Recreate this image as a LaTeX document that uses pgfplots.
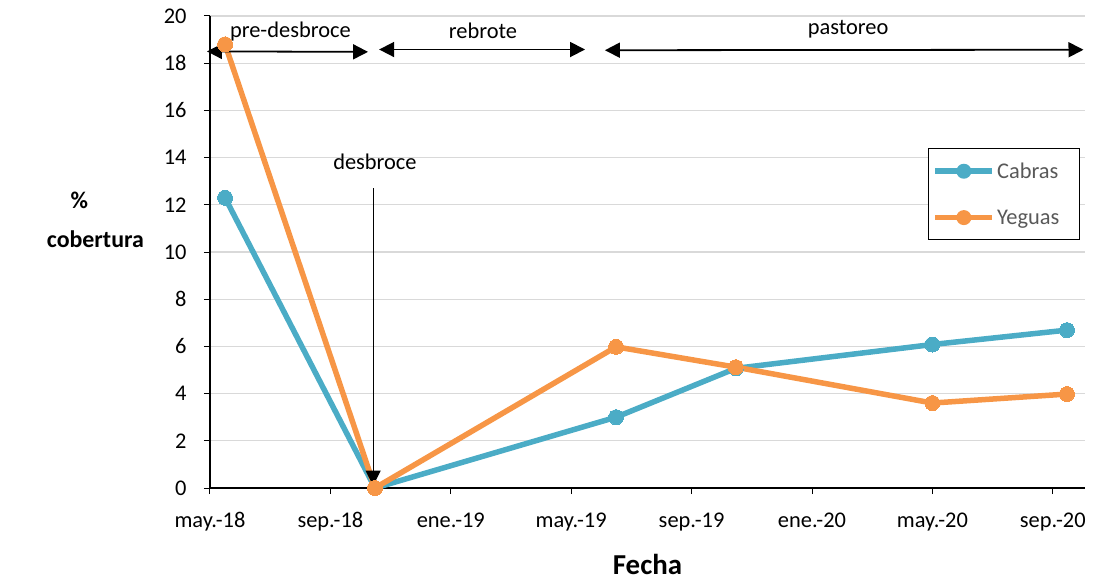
\documentclass[border=0pt]{standalone}
\usepackage{pgfplots}
\pgfplotsset{compat=1.18}
\usepackage{fontspec}
\setmainfont{Carlito}
\usetikzlibrary{arrows.meta}
\definecolor{cabras}{HTML}{4BACC6}
\definecolor{yeguas}{HTML}{F79646}
\definecolor{gridgray}{HTML}{D9D9D9}
\definecolor{leggray}{HTML}{595959}
\begin{document}
\begin{tikzpicture}
\begin{axis}[
  scale only axis,
  width=875bp, height=472bp,
  xmin=0, xmax=29.07, ymin=0, ymax=20,
  axis x line*=bottom, axis y line*=left,
  axis line style={black, line width=1.3pt, -},
  xtick={0,4,8,12,16,20,24,28},
  xticklabels={may.-18,sep.-18,ene.-19,may.-19,sep.-19,ene.-20,may.-20,sep.-20},
  ytick={0,2,...,20},
  tick align=outside,
  major tick length=6bp,
  tick style={black, line width=1pt},
  ymajorgrids, grid style={gridgray, line width=1.2pt},
  /pgf/number format/assume math mode=true,
  tick label style={font=\fontsize{22.5}{26}\selectfont},
  xticklabel shift=15bp,
  yticklabel shift=14bp,
  xlabel={\textbf{Fecha}},
  xlabel style={font=\fontsize{29}{34}\selectfont, at={(axis description cs:0.5,-0.163)}, anchor=center},
  ylabel={\textbf{\%}\hspace*{32bp}\\\textbf{cobertura}},
  ylabel style={font=\fontsize{24}{40}\selectfont, rotate=-90, align=center, at={(axis description cs:-0.131,0.568)}, anchor=center},
  legend style={at={(axis description cs:0.8206,0.72)}, anchor=north west, draw=black, line width=1.2pt,
    font=\fontsize{22.5}{26}\selectfont\color{leggray}, inner xsep=4pt, inner ysep=12pt, row sep=26pt,
    legend cell align=left},
  legend image code/.code={\draw[#1, line width=5.5bp] (0cm,0cm) -- (57bp,0cm); \fill[#1, draw=none] (28.5bp,0cm) circle (7.5bp);},
  clip=false,
]
\addplot[cabras, line width=5.5bp, mark=*, mark size=7.5bp, mark options={draw=cabras, fill=cabras, line width=0pt}]
  coordinates {(0.5,12.3) (5.48,0) (13.49,3.0) (17.47,5.07) (24.0,6.08) (28.47,6.69)};
\addlegendentry{Cabras\hspace*{14bp}}
\addplot[yeguas, line width=5.5bp, mark=*, mark size=7.5bp, mark options={draw=yeguas, fill=yeguas, line width=0pt}]
  coordinates {(0.5,18.8) (5.48,0) (13.49,5.98) (17.47,5.12) (24.0,3.6) (28.47,3.98)};
\addlegendentry{Yeguas\hspace*{14bp}}
% annotations
\draw[{Triangle[length=15bp,width=15bp]}-{Triangle[length=15bp,width=15bp]}, black, line width=1.8pt] (axis cs:-0.1,18.5) -- (axis cs:5.25,18.48);
\draw[{Triangle[length=15bp,width=15bp]}-{Triangle[length=15bp,width=15bp]}, black, line width=1.8pt] (axis cs:5.62,18.58) -- (axis cs:12.46,18.58);
\draw[{Triangle[length=15bp,width=15bp]}-{Triangle[length=15bp,width=15bp]}, black, line width=1.8pt] (axis cs:13.12,18.55) -- (axis cs:29.02,18.57);
\node[font=\fontsize{22.5}{26}\selectfont, anchor=base] at (axis cs:2.67,19.1) {pre-desbroce};
\node[font=\fontsize{22.5}{26}\selectfont, anchor=base] at (axis cs:9.07,19.05) {rebrote};
\node[font=\fontsize{22.5}{26}\selectfont, anchor=base] at (axis cs:21.2,19.2) {pastoreo};
\draw[-{Triangle[length=15bp,width=15bp]}, black, line width=1.2pt] (axis cs:5.42,12.7) -- (axis cs:5.42,0.1);
\node[font=\fontsize{22.5}{26}\selectfont, anchor=base] at (axis cs:5.48,13.5) {desbroce};
\end{axis}
\pgfresetboundingbox
\useasboundingbox (-210bp,-94bp) rectangle (898bp,488bp);
\end{tikzpicture}
\end{document}
